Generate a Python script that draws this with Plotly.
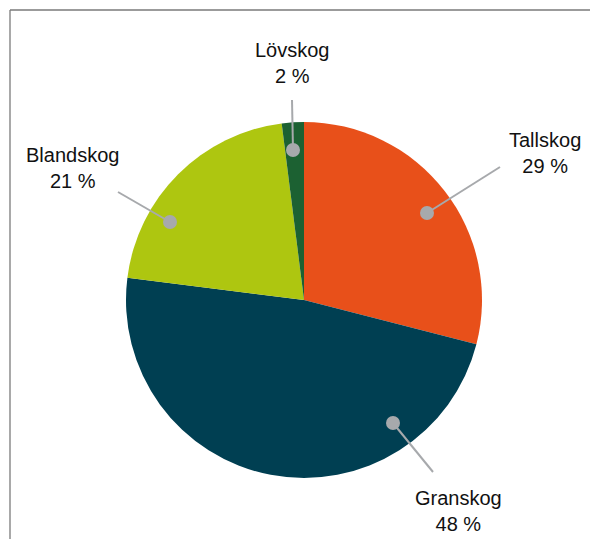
import plotly.graph_objects as go

categories = ["Tallskog", "Granskog", "Blandskog", "Lövskog"]
values = [29, 48, 21, 2]
colors = ["#E8501A", "#003F52", "#AEC610", "#1C6132"]

W, H = 590, 539
CX, CY, R = 304, 300, 178

# label layout in pixels (dot, line end, label centre)
dots = [(427, 213), (393, 423), (170, 222), (293, 150)]
ends = [(500, 167), (433, 472), (118, 192), (292, 100)]
label_pos = [(545, 153), (459, 511), (72, 168), (292, 63)]

def px(x, y):
    return x / W, 1 - y / H

fig = go.Figure(go.Pie(
    labels=categories, values=values, sort=False, direction="clockwise",
    rotation=0, textinfo="none", hoverinfo="label+percent",
    marker=dict(colors=colors, line=dict(width=0)),
    domain=dict(x=[(CX - R) / W, (CX + R) / W], y=[(H - CY - R) / H, (H - CY + R) / H]),
    showlegend=False,
))

shapes = []
# frame
shapes.append(dict(type="line", xref="paper", yref="paper", x0=px(10, 10)[0], y0=px(10, 10)[1],
                   x1=1.0, y1=px(10, 10)[1], line=dict(color="#7A7A7A", width=1.3)))
shapes.append(dict(type="line", xref="paper", yref="paper", x0=px(10, 10)[0], y0=px(10, 10)[1],
                   x1=px(10, 10)[0], y1=0.0, line=dict(color="#7A7A7A", width=1.3)))

annotations = []
for cat, val, d, e, lp in zip(categories, values, dots, ends, label_pos):
    x0, y0 = px(*d)
    x1, y1 = px(*e)
    shapes.append(dict(type="line", xref="paper", yref="paper", x0=x0, y0=y0, x1=x1, y1=y1,
                       line=dict(color="#A7A9AC", width=2)))
    r = 7
    a0 = px(d[0] - r, d[1] + r)
    a1 = px(d[0] + r, d[1] - r)
    shapes.append(dict(type="circle", xref="paper", yref="paper", x0=a0[0], y0=a0[1],
                       x1=a1[0], y1=a1[1], fillcolor="#A7A9AC", line=dict(width=0)))
    lx, ly = px(*lp)
    annotations.append(dict(text=f"{cat}<br>{val} %", x=lx, y=ly, xref="paper", yref="paper",
                            showarrow=False, xanchor="center", yanchor="middle", align="center",
                            font=dict(family="Liberation Sans, Arial, sans-serif", size=20, color="#111111")))

fig.update_layout(width=W, height=H, margin=dict(l=0, r=0, t=0, b=0),
                  paper_bgcolor="white", plot_bgcolor="white",
                  shapes=shapes, annotations=annotations)

fig.write_html("out.html", config={"displayModeBar": False},
               post_script="document.body.style.margin='0';document.body.style.overflow='hidden';")
